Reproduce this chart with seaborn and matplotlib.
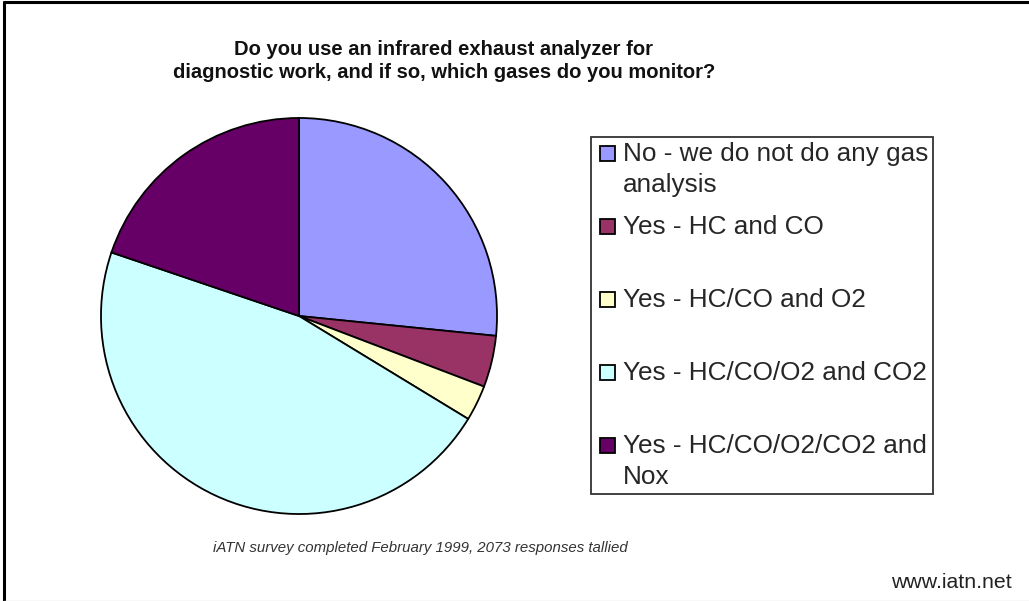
import textwrap
import matplotlib
matplotlib.use('Agg')
import matplotlib.pyplot as plt
import seaborn as sns
from matplotlib.patches import Rectangle
from matplotlib.lines import Line2D
from matplotlib.legend_handler import HandlerPatch

# survey answers and their share of responses (%)
answers = ['No - we do not do any gas analysis',
           'Yes - HC and CO',
           'Yes - HC/CO and O2',
           'Yes - HC/CO/O2 and CO2',
           'Yes - HC/CO/O2/CO2 and Nox']
shares = [26.6, 4.2, 2.9, 46.5, 19.8]
colours = ['#9999FF', '#993366', '#FFFFCC', '#CCFFFF', '#660066']

title = ('Do you use an infrared exhaust analyzer for\n'
         'diagnostic work, and if so, which gases do you monitor?')
note = 'iATN survey completed February 1999, 2073 responses tallied'
site = 'www.iatn.net'

sns.set_theme(style='white')
plt.rcParams['font.family'] = ['Liberation Sans', 'DejaVu Sans']

W, H = 1029, 601
fig = plt.figure(figsize=(W / 100, H / 100), dpi=100)

# pie: centre (299, 316) px, radius 200 px
cx, cy, r = 299, 316, 200
ax = fig.add_axes([(cx - r) / W, (H - cy - r) / H, 2 * r / W, 2 * r / H])
wedges, _ = ax.pie(shares, colors=sns.color_palette(colours), startangle=90,
                   counterclock=False, radius=1,
                   wedgeprops=dict(edgecolor='black', linewidth=1.3))
ax.set_xlim(-1.01, 1.01)
ax.set_ylim(-1.01, 1.01)
ax.set_aspect('equal')
ax.axis('off')

# legend: every entry takes two lines, handle sits on the first one
labels = []
for a in answers:
    s = textwrap.fill(a, 25)
    if '\n' not in s:
        s += '\n '
    labels.append(s)

line_pt = 32 * 72 / 100  # baseline step in points


def top_square(legend, orig_handle, xdescent, ydescent, width, height, fontsize):
    size = 10.8
    return Rectangle((-xdescent + 2.9, -ydescent + height / 2 - size / 2 + line_pt / 2),
                     size, size)


leg = fig.legend(wedges, labels, loc='upper left',
                 bbox_to_anchor=(591 / W, 1 - 137 / H), borderaxespad=0,
                 frameon=True, fancybox=False, edgecolor='black',
                 prop=dict(size=18.8), handlelength=0.6, handleheight=0.6,
                 handletextpad=0.41, labelspacing=0.7, borderpad=0.2,
                 handler_map={w: HandlerPatch(patch_func=top_square) for w in wedges})
leg.get_frame().set_linewidth(1.3)
for t in leg.get_texts():
    t.set_linespacing(1.35)

fig.text(444 / W, 1 - 61 / H, title, ha='center', va='center',
         fontsize=14.5, fontweight='bold', linespacing=1.3, color='#111111')
fig.text(420 / W, 1 - 548 / H, note, ha='center', va='center',
         fontsize=10.8, style='italic', color='#333333')
fig.text(1012 / W, 1 - 583 / H, site, ha='right', va='center',
         fontsize=15.3, color='#222222')

# frame lines: black on the left and top, light grey at the bottom
fig.add_artist(Line2D([4 / W, 4 / W], [0, 1 - 2 / H], color='black', lw=2.2,
                      transform=fig.transFigure))
fig.add_artist(Line2D([4 / W, 1], [1 - 2 / H, 1 - 2 / H], color='black', lw=2.2,
                      transform=fig.transFigure))
fig.add_artist(Line2D([4 / W, 1], [0.5 / H, 0.5 / H], color='#dddddd', lw=1,
                      transform=fig.transFigure))

fig.savefig('out.png', dpi=100)
